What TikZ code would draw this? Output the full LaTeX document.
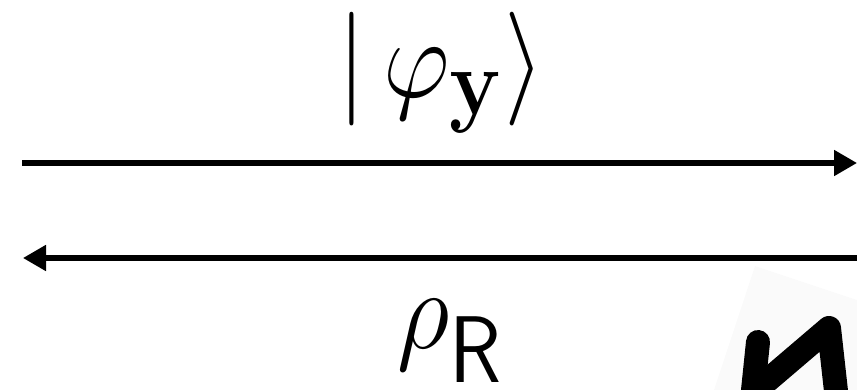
\documentclass[tikz,border=0pt]{standalone}
\usepackage{amsmath,amssymb}
\usepackage{graphicx}
\usetikzlibrary{arrows.meta}
\newcommand{\bigmath}[2][3.54]{\scalebox{#1}[3.9]{\Huge$#2$}}
\begin{document}
\begin{tikzpicture}[x=0.03cm,y=-0.03cm,
    wire/.style={line width=4.3pt,-{Triangle[length=0.69cm,width=0.75cm]}},
    lab/.style={inner sep=0pt,anchor=base}]
  \useasboundingbox (0,0) rectangle (857,390);
  % faint scrap of a scanned sheet, bottom right
  \begin{scope}
    \clip (0,0) rectangle (857,390);
    \fill[black!2] (755,266) -- (857,300) -- (857,390) -- (714,390) -- cycle;
    \draw[line width=0.72cm,line cap=round,line join=round]
      (752,400) -- (758,342);
    \draw[line width=0.72cm,line cap=round,line join=round]
      (754,392) -- (829,328) -- (837,400);
  \end{scope}
  % ends of the two wires
  \coordinate (sendL) at (22,163);
  \coordinate (sendR) at (857,163);
  \coordinate (backR) at (857,258);
  \coordinate (backL) at (23,258);
  \draw[wire] (sendL) -- (sendR);
  \draw[wire] (backR) -- (backL);
  \node[lab] (ket) at (441,97) {\bigmath[3.55]{|\,\varphi_{\mathbf{y}}\rangle}};
  \node[lab] (rho) at (450,348)
    {\bigmath{\rho\raisebox{-0.3em}{$\scriptstyle\mathsf{R}$}}};
\end{tikzpicture}
\end{document}
